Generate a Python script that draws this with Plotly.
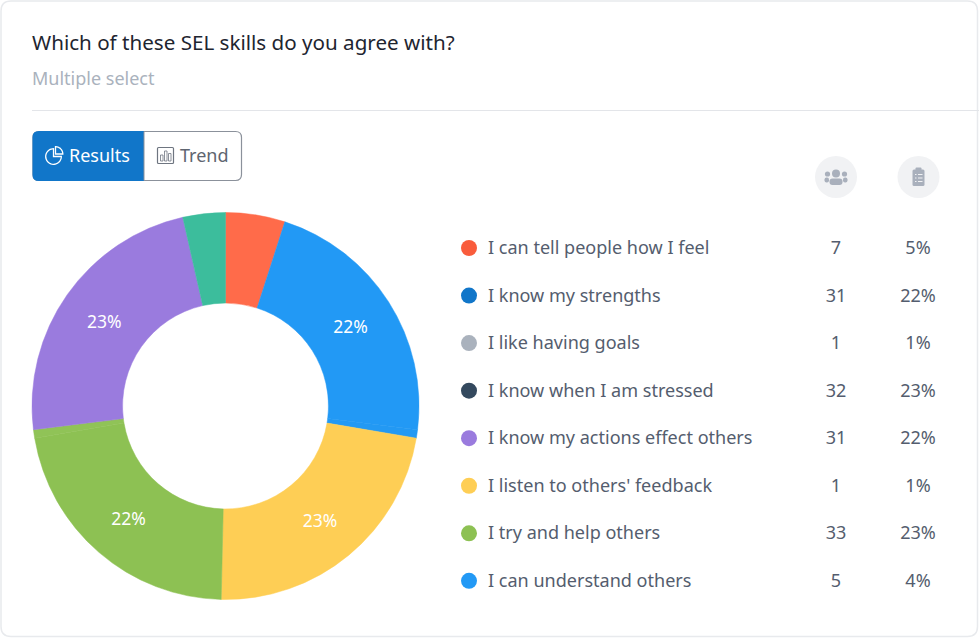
import math
import plotly.graph_objects as go

QUESTION = "Which of these SEL skills do you agree with?"
SUBTITLE = "Multiple select"
TAB_LABELS = ["Results", "Trend"]
CATEGORIES = ["I can tell people how I feel", "I know my strengths", "I like having goals",
              "I know when I am stressed", "I know my actions effect others",
              "I listen to others' feedback", "I try and help others", "I can understand others"]
COUNTS = [7, 31, 1, 32, 31, 1, 33, 5]
PERCENTS = ["5%", "22%", "1%", "23%", "22%", "1%", "23%", "4%"]
SLICE_TEXT = ["", "22%", "", "23%", "22%", "", "23%", ""]
SLICE_COLORS = ["#FF6B4A", "#2299F5", "#2399F3", "#FECE55", "#8DC153", "#90C357", "#9A7BDE", "#3CBD9C"]
DOT_COLORS = ["#F95C3C", "#1176C9", "#AAB2BD", "#34495E", "#9A7BDE", "#FECE55", "#8DC153", "#2299F5"]

W, H = 979, 638
FONT = "Noto Sans"
TEXT = "#545D6E"
ICON = "#A9B0BC"

def px(x): return x / W
def py(y): return 1 - y / H

fig = go.Figure()

CX, CY, R = 225.5, 406.0, 193.5
fig.add_trace(go.Pie(
    labels=CATEGORIES, values=COUNTS, text=SLICE_TEXT, textinfo="text",
    sort=False, direction="clockwise", rotation=0, hole=0.532,
    marker=dict(colors=SLICE_COLORS, line=dict(width=0.5, color=SLICE_COLORS)),
    textposition="inside", insidetextorientation="horizontal",
    insidetextfont=dict(family=FONT, size=17.5, color="white"),
    domain=dict(x=[px(CX - R), px(CX + R)], y=[py(CY + R), py(CY - R)]),
    showlegend=False, hoverinfo="label+value",
))

n = len(CATEGORIES)
def column(xpos, yaxis, **kw):
    return go.Scatter(x=[xpos] * n, y=CATEGORIES, xaxis="x", yaxis=yaxis, hoverinfo="skip",
                      showlegend=False, cliponaxis=False, **kw)

fig.add_trace(column(469, "y2", mode="markers", marker=dict(size=16, color=DOT_COLORS, line=dict(width=0))))
fig.add_trace(column(488, "y3", mode="text", text=CATEGORIES, textposition="middle right",
                     textfont=dict(family=FONT, size=18.05, color=TEXT)))
fig.add_trace(column(836, "y3", mode="text", text=[str(v) for v in COUNTS], textposition="middle center",
                     textfont=dict(family=FONT, size=18.05, color=TEXT)))
fig.add_trace(column(918, "y3", mode="text", text=PERCENTS, textposition="middle center",
                     textfont=dict(family=FONT, size=18.05, color=TEXT)))

shapes = []
def S(path, fill="rgba(0,0,0,0)", line=None, lw=1):
    shapes.append(dict(type="path", path=path, xref="x", yref="y", fillcolor=fill,
                       line=dict(color=line or "rgba(0,0,0,0)", width=lw if line else 0), layer="below"))
def C(cx, cy, r, fill):
    shapes.append(dict(type="circle", x0=cx - r, x1=cx + r, y0=cy - r, y1=cy + r, xref="x", yref="y",
                       fillcolor=fill, line=dict(width=0), layer="below"))

def rrect(x0, y0, x1, y1, r):
    return (f"M{x0+r},{y0} L{x1-r},{y0} Q{x1},{y0} {x1},{y0+r} L{x1},{y1-r} Q{x1},{y1} {x1-r},{y1} "
            f"L{x0+r},{y1} Q{x0},{y1} {x0},{y1-r} L{x0},{y0+r} Q{x0},{y0} {x0+r},{y0} Z")
def arc(cx, cy, r, a0, a1, steps=32):
    pts = [(cx + r * math.sin(math.radians(a0 + (a1 - a0) * i / steps)),
            cy - r * math.cos(math.radians(a0 + (a1 - a0) * i / steps))) for i in range(steps + 1)]
    return "M" + " L".join(f"{x:.2f},{y:.2f}" for x, y in pts) + f" L{cx},{cy} Z"

# Card and divider
S(rrect(1, 1, 977.5, 636.5, 10), fill="white", line="#E8EAED", lw=1.5)
S("M32,110.5 L979,110.5", line="#E3E5E9", lw=1.2)

# Buttons
S(rrect(33, 131.5, 241.5, 180.5, 6), fill="white", line="#8B919B", lw=1.2)
S("M144,131 L39,131 Q32.5,131 32.5,137 L32.5,175 Q32.5,181 39,181 L144,181 Z", fill="#1176C9")
S("M144,131.5 L144,180.5", line="#8B919B", lw=1)

# Pie icon in the Results tab
S(arc(53.5, 156.5, 7.8, 90, 360), line="white", lw=1.3)
S(arc(55.5, 154.0, 7.3, 0, 90), line="white", lw=1.3)
# Bar icon in the Trend tab
S(rrect(157.5, 147.5, 173.5, 163.5, 1), line="#6E7580", lw=1.2)
for a, top in ((160.5, 155), (164.5, 151), (168.5, 153.5)):
    S(f"M{a},{top} L{a+2.5},{top} L{a+2.5},161 L{a},161 Z", line="#6E7580", lw=0.8)

# Header icons
C(836, 177, 21, "#F1F2F4")
C(918.5, 177, 21, "#F1F2F4")
C(836, 173.5, 4, ICON)
C(827.5, 174, 2.6, ICON)
C(844.5, 174, 2.6, ICON)
S(rrect(829.5, 178.5, 842.5, 185, 3), fill=ICON)
S(rrect(824.5, 177.5, 829, 182.5, 2), fill=ICON)
S(rrect(843, 177.5, 847.5, 182.5, 2), fill=ICON)
S(rrect(912.5, 169.5, 924.5, 186, 1.5), fill=ICON)
S(rrect(915.5, 167.5, 921.5, 171.5, 1), fill=ICON)
for yy in (174.5, 178, 181.5):
    S(f"M915,{yy} L916.5,{yy}", line="#F1F2F4", lw=1)
    S(f"M918,{yy} L922.5,{yy}", line="#F1F2F4", lw=1)

def note(x, y, text, size, color, anchor="left"):
    return dict(x=x, y=y, xref="x", yref="y", text=text, showarrow=False, xanchor=anchor, yanchor="middle",
                font=dict(family=FONT, size=size, color=color), borderpad=0, borderwidth=0)

annotations = [
    note(32, 41.5, QUESTION, 20.6, "#1E2530"),
    note(32, 78, SUBTITLE, 18, "#AAB2BD"),
    note(69, 155, TAB_LABELS[0], 18, "white"),
    note(180, 155, TAB_LABELS[1], 18, "#5E6570"),
]

dot0, text0, step = 248.0, 249.5, 47.55
def rows(y0):
    return dict(type="category", categoryorder="array", categoryarray=CATEGORIES,
                range=[n - 0.5, -0.5], visible=False, fixedrange=True, anchor="x",
                domain=[py(y0 + (n - 0.5) * step), py(y0 - 0.5 * step)])
fig.update_layout(
    width=W, height=H, autosize=False, margin=dict(l=0, r=0, t=0, b=0),
    paper_bgcolor="white", plot_bgcolor="rgba(0,0,0,0)",
    xaxis=dict(range=[0, W], domain=[0, 1], visible=False, fixedrange=True),
    yaxis=dict(range=[H, 0], domain=[0, 1], visible=False, fixedrange=True),
    yaxis2=rows(dot0), yaxis3=rows(text0),
    shapes=shapes, annotations=annotations,
)
fig.write_html("out.html", config={"displayModeBar": False},
               post_script="document.body.style.margin='0';document.documentElement.style.overflow='hidden';")
